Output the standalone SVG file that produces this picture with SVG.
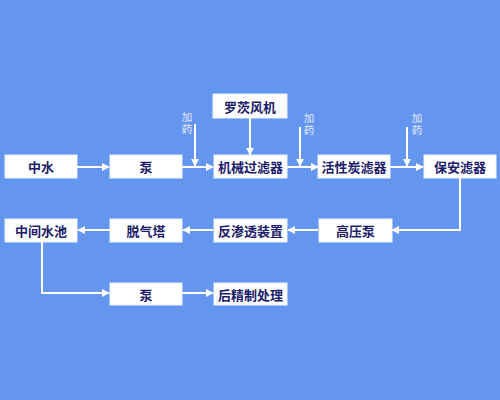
<svg xmlns="http://www.w3.org/2000/svg" width="500" height="400" viewBox="0 0 500 400">
<defs>
<marker id="ah" viewBox="0 0 10 10" refX="9" refY="5" markerWidth="8" markerHeight="8" markerUnits="userSpaceOnUse" orient="auto">
<path d="M0,0 L10,5 L0,10 Z" fill="#ffffff"/>
</marker>
<style>
.box{fill:#ffffff;stroke:#eef2fb;stroke-width:1}
.lbl{font-family:"Noto Sans CJK SC","Noto Sans",sans-serif;font-size:13px;font-weight:bold;fill:#1c1c6a;text-anchor:middle;dominant-baseline:central}
.add{font-family:"Noto Sans CJK SC","Noto Sans",sans-serif;font-size:10.5px;fill:#e4ebfb;writing-mode:vertical-rl;text-orientation:upright;text-anchor:start;letter-spacing:1px}
.ln{fill:none;stroke:#ffffff;stroke-width:2;marker-end:url(#ah)}
</style>
</defs>
<rect x="0" y="0" width="500" height="400" fill="#6496f0"/>
<g id="connectors">
<line class="ln" x1="77" y1="167" x2="109" y2="167"/>
<line class="ln" x1="182" y1="167" x2="213" y2="167"/>
<line class="ln" x1="250" y1="118" x2="250" y2="155"/>
<line class="ln" x1="195" y1="124" x2="195" y2="166"/>
<line class="ln" x1="287" y1="167" x2="318" y2="167"/>
<line class="ln" x1="300" y1="127" x2="300" y2="166"/>
<line class="ln" x1="390" y1="167" x2="423" y2="167"/>
<line class="ln" x1="407" y1="127" x2="407" y2="166"/>
<polyline class="ln" points="460,178 460,230 392,230"/>
<line class="ln" x1="318" y1="230" x2="288" y2="230"/>
<line class="ln" x1="213" y1="230" x2="183" y2="230"/>
<line class="ln" x1="110" y1="230" x2="78" y2="230"/>
<polyline class="ln" points="42,242 42,293 109,293"/>
<line class="ln" x1="182" y1="293" x2="213" y2="293"/>
</g>
<g id="add1"><text class="add" x="187" y="112">加药</text></g>
<g id="add2"><text class="add" x="309" y="113">加药</text></g>
<g id="add3"><text class="add" x="417" y="113">加药</text></g>
<g id="n_zhongshui"><rect class="box" x="5" y="155" width="72" height="23"/><text class="lbl" x="41" y="166.5">中水</text></g>
<g id="n_beng1"><rect class="box" x="110" y="155" width="72" height="23"/><text class="lbl" x="146" y="166.5">泵</text></g>
<g id="n_luoci"><rect class="box" x="213" y="94" width="74" height="24"/><text class="lbl" x="250" y="106">罗茨风机</text></g>
<g id="n_jixie"><rect class="box" x="214" y="155" width="73" height="23"/><text class="lbl" x="250.5" y="166.5">机械过滤器</text></g>
<g id="n_huoxing"><rect class="box" x="318" y="155" width="72" height="23"/><text class="lbl" x="354" y="166.5">活性炭滤器</text></g>
<g id="n_baoan"><rect class="box" x="424" y="155" width="72" height="23"/><text class="lbl" x="460" y="166.5">保安滤器</text></g>
<g id="n_gaoya"><rect class="box" x="319" y="219" width="73" height="23"/><text class="lbl" x="355.5" y="230.5">高压泵</text></g>
<g id="n_fanshentou"><rect class="box" x="214" y="219" width="73" height="23"/><text class="lbl" x="250.5" y="230.5">反渗透装置</text></g>
<g id="n_tuoqi"><rect class="box" x="110" y="219" width="72" height="23"/><text class="lbl" x="146" y="230.5">脱气塔</text></g>
<g id="n_zhongjian"><rect class="box" x="5" y="219" width="72" height="23"/><text class="lbl" x="41" y="230.5">中间水池</text></g>
<g id="n_beng2"><rect class="box" x="110" y="283" width="72" height="22"/><text class="lbl" x="146" y="294">泵</text></g>
<g id="n_houjingzhi"><rect class="box" x="214" y="283" width="73" height="22"/><text class="lbl" x="250.5" y="294">后精制处理</text></g>
</svg>
